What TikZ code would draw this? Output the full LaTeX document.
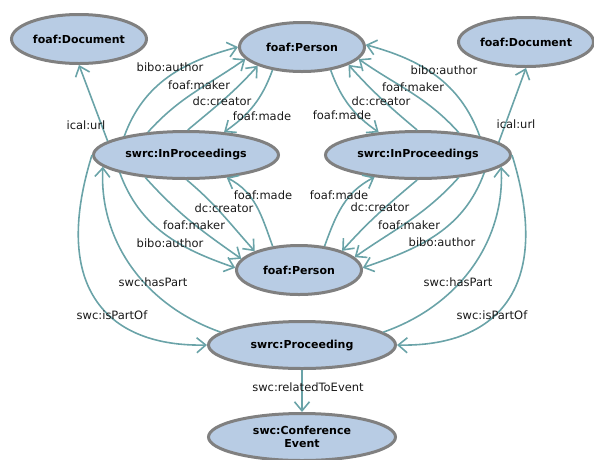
\documentclass[tikz,border=0pt]{standalone}
\usepackage{fontspec}
\setmainfont{DejaVu Sans}
\usetikzlibrary{shapes.geometric,arrows.meta}
\definecolor{nodefill}{HTML}{B8CCE4}
\definecolor{nodeline}{HTML}{808080}
\definecolor{edgecol}{HTML}{6AA3A8}
\begin{document}
\begin{tikzpicture}[x=1pt,y=1pt,
  ent/.style={ellipse, draw=nodeline, line width=3pt, fill=nodefill, inner sep=0pt,
    font=\fontsize{11}{13}\selectfont\bfseries, text=black, align=center},
  docnode/.style={ent, minimum width=135pt, minimum height=49pt},
  persnode/.style={ent, minimum width=125pt, minimum height=49pt},
  inpnode/.style={ent, minimum width=185pt, minimum height=47pt},
  procnode/.style={ent, minimum width=187pt, minimum height=47pt},
  rel/.style={draw=edgecol, line width=1.6pt, -{Straight Barb[length=9pt,width=15pt]}},
  lab/.style={font=\fontsize{11.5}{13}\selectfont, text=black!90, inner sep=1pt},
]
\useasboundingbox (0,0) rectangle (594,-459);

\node[docnode] (DocL) at (79,-39) {foaf:Document};
\node[persnode] (PT) at (302,-47) {foaf:Person};
\node[docnode] (DocR) at (526,-42) {foaf:Document};
\node[inpnode] (IL) at (186,-155) {swrc:InProceedings};
\node[inpnode] (IR) at (418,-155) {swrc:InProceedings};
\node[persnode] (PB) at (299,-270) {foaf:Person};
\node[procnode] (PR) at (302,-345) {swrc:Proceeding};
\node[procnode] (CE) at (302,-437) {swc:Conference\\Event};

% top left
\draw[rel] (IL.170) -- (DocL.south);
\draw[rel] (IL.163) to[out=70,in=195] (PT.180);
\draw[rel] (IL.149) to[out=48,in=215] (PT.192);
\draw[rel] (IL.86) to[out=40,in=228] (PT.203);
\draw[rel] (PT.218) to[out=250,in=35] (IL.31);
% top right
\draw[rel] (IR.9) -- (DocR.south);
\draw[rel] (IR.17) to[out=110,in=-15] (PT.2);
\draw[rel] (IR.29) to[out=132,in=-35] (PT.348);
\draw[rel] (IR.92) to[out=140,in=-48] (PT.339);
\draw[rel] (PT.321) to[out=290,in=145] (IR.150);
% bottom left
\draw[rel] (IL.195) to[out=-70,in=161] (PB.178);
\draw[rel] (IL.209) to[out=-48,in=145] (PB.169);
\draw[rel] (IL.272) to[out=-40,in=132] (PB.157);
\draw[rel] (PB.138) to[out=110,in=-27] (IL.331);
% bottom right
\draw[rel] (IR.345) to[out=-110,in=19] (PB.2);
\draw[rel] (IR.331) to[out=228,in=35] (PB.13);
\draw[rel] (IR.268) to[out=220,in=48] (PB.24);
\draw[rel] (PB.43) to[out=70,in=207] (IR.207);
% proceeding
\draw[rel] (PR.171) .. controls +(-77,27) and +(-4,-73) .. (IL.188);
\draw[rel] (IL.180) .. controls +(-42,-135) and +(-98,-2) .. (PR.180);
\draw[rel] (PR.9) .. controls +(77,27) and +(4,-73) .. (IR.352);
\draw[rel] (IR.0) .. controls +(42,-135) and +(98,-2) .. (PR.0);
\draw[rel] (PR.south) -- (CE.north);

% labels
\node[lab] (l1) at (86,-125) {ical:url};
\node[lab] (l2) at (170,-67) {bibo:author};
\node[lab] (l3) at (199,-85) {foaf:maker};
\node[lab] (l4) at (222,-101) {dc:creator};
\node[lab] (l5) at (262,-116) {foaf:made};
\node[lab] (l6) at (342,-115) {foaf:made};
\node[lab] (l7) at (381,-101) {dc:creator};
\node[lab] (l8) at (413,-87) {foaf:maker};
\node[lab] (l9) at (444,-70) {bibo:author};
\node[lab] (l10) at (516,-124) {ical:url};
\node[lab] (l11) at (263,-195) {foaf:made};
\node[lab] (l12) at (224,-208) {dc:creator};
\node[lab] (l13) at (194,-225) {foaf:maker};
\node[lab] (l14) at (170,-243) {bibo:author};
\node[lab] (l15) at (339,-195) {foaf:made};
\node[lab] (l16) at (380,-207) {dc:creator};
\node[lab] (l17) at (409,-225) {foaf:maker};
\node[lab] (l18) at (442,-242) {bibo:author};
\node[lab] (l19) at (153,-282) {swc:hasPart};
\node[lab] (l20) at (112,-315) {swc:isPartOf};
\node[lab] (l21) at (458,-282) {swc:hasPart};
\node[lab] (l22) at (492,-315) {swc:isPartOf};
\node[lab] (l23) at (308,-387) {swc:relatedToEvent};
\end{tikzpicture}
\end{document}
